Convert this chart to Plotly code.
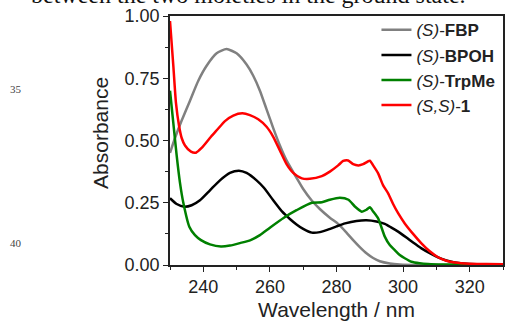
import plotly.graph_objects as go

# ---- data ----
fbp_wl = [230, 231.5, 233.5, 236, 238.5, 241, 244, 247, 250, 253, 255, 257, 259, 261, 263, 265, 268, 270, 272.5, 275, 278, 280.5, 283, 285, 287, 289, 291, 293, 296, 299, 305, 330]
fbp_abs = [0.45, 0.51, 0.58, 0.66, 0.74, 0.80, 0.85, 0.867, 0.85, 0.805, 0.76, 0.70, 0.625, 0.55, 0.48, 0.42, 0.35, 0.305, 0.26, 0.225, 0.19, 0.165, 0.13, 0.10, 0.072, 0.047, 0.028, 0.015, 0.006, 0.002, 0.0, 0.0]

bpoh_wl = [230, 232, 234.3, 236.5, 239, 242, 245, 248, 250.7, 253, 256, 258.2, 261, 263.7, 266, 268, 270, 272.6, 275, 277.6, 280, 282.6, 286, 289, 292, 294.5, 296.5, 298.5, 301, 303, 305.5, 308, 310.5, 313, 315.5, 318, 322, 330]
bpoh_abs = [0.268, 0.245, 0.234, 0.24, 0.26, 0.30, 0.34, 0.37, 0.379, 0.37, 0.34, 0.31, 0.26, 0.214, 0.185, 0.163, 0.145, 0.13, 0.132, 0.143, 0.155, 0.167, 0.177, 0.18, 0.175, 0.165, 0.15, 0.134, 0.11, 0.09, 0.067, 0.048, 0.031, 0.018, 0.01, 0.006, 0.003, 0.002]

trp_wl = [230, 231, 232, 233, 234, 235.8, 237.5, 239.3, 242, 245.3, 248, 251, 254.2, 257, 260, 264.2, 268, 272.6, 275.6, 278, 281, 283.6, 285.5, 287.6, 289, 290, 291, 292.5, 294.5, 296, 297.5, 299, 300.5, 302.5, 305, 307.5, 312, 330]
trp_abs = [0.70, 0.57, 0.44, 0.33, 0.25, 0.154, 0.12, 0.10, 0.083, 0.074, 0.078, 0.088, 0.10, 0.12, 0.15, 0.19, 0.22, 0.25, 0.252, 0.262, 0.27, 0.262, 0.235, 0.214, 0.222, 0.232, 0.215, 0.187, 0.114, 0.08, 0.06, 0.04, 0.027, 0.013, 0.007, 0.004, 0.002, 0.001]

ss1_wl = [230, 231, 231.8, 232.7, 233.5, 234.5, 236.3, 237.8, 239.5, 242.3, 244.3, 246.5, 249, 251.7, 254, 256.5, 259, 261, 263, 265, 267, 269.6, 272, 275.6, 278, 280.5, 282, 283.5, 285, 286.6, 288, 290, 291, 292.5, 294, 295.5, 297, 298.5, 300.5, 303, 305.5, 308, 310.5, 313, 315.5, 320, 325, 330]
ss1_abs = [0.98, 0.80, 0.65, 0.56, 0.51, 0.48, 0.455, 0.451, 0.47, 0.515, 0.545, 0.578, 0.60, 0.609, 0.602, 0.585, 0.555, 0.515, 0.46, 0.405, 0.37, 0.348, 0.346, 0.357, 0.375, 0.40, 0.418, 0.42, 0.405, 0.40, 0.405, 0.419, 0.40, 0.368, 0.32, 0.288, 0.245, 0.208, 0.167, 0.125, 0.087, 0.055, 0.031, 0.017, 0.01, 0.005, 0.004, 0.003]

names = ["<i>(S)</i>-<b>FBP</b>", "<i>(S)</i>-<b>BPOH</b>", "<i>(S)</i>-<b>TrpMe</b>", "<i>(S,S)</i>-<b>1</b>"]
colors = ["#808080", "#000000", "#008000", "#FF0000"]

x_ticks = [240, 260, 280, 300, 320]
y_ticks = [0.0, 0.25, 0.5, 0.75, 1.0]
y_ticklabels = ["0.00", "0.25", "0.50", "0.75", "1.00"]

fig = go.Figure()
for wl, ab, nm, c in zip([fbp_wl, bpoh_wl, trp_wl, ss1_wl], [fbp_abs, bpoh_abs, trp_abs, ss1_abs], names, colors):
    fig.add_trace(go.Scatter(x=wl, y=ab, mode="lines", name=nm,
                             line=dict(color=c, width=2.5, shape="spline", smoothing=0.6)))

axis_col = "#222222"
fig.update_layout(
    width=506, height=321,
    margin=dict(l=170, r=1, t=16, b=56),
    paper_bgcolor="white", plot_bgcolor="white",
    font=dict(family="Liberation Sans, Arial, sans-serif", color="#222222", size=18),
    showlegend=True,
    legend=dict(x=0.62, y=1.015, xanchor="left", yanchor="top",
                bgcolor="rgba(0,0,0,0)", font=dict(size=17, color="#222222"),
                tracegroupgap=0),
    xaxis=dict(range=[230, 330], tickvals=x_ticks, ticks="outside", ticklen=5,
               tickwidth=1.3, tickcolor=axis_col, showline=True, linecolor=axis_col,
               linewidth=1.5, mirror=True, showgrid=False, zeroline=False,
               minor=dict(dtick=10, tick0=230, ticks="outside", ticklen=3, tickcolor=axis_col, tickwidth=1.3),
               title=dict(text="Wavelength / nm", font=dict(size=21), standoff=6),
               tickfont=dict(size=18)),
    yaxis=dict(range=[0, 1.0], tickvals=y_ticks, ticktext=y_ticklabels, ticks="outside",
               ticklen=5, tickwidth=1.3, tickcolor=axis_col, showline=True,
               linecolor=axis_col, linewidth=1.5, mirror=True, showgrid=False,
               zeroline=False,
               minor=dict(dtick=0.125, tick0=0, ticks="outside", ticklen=3, tickcolor=axis_col, tickwidth=1.3),
               tickfont=dict(size=18)),
    xaxis2=dict(range=[230, 330], overlaying="x", side="top", anchor="y",
                dtick=10, tick0=230, ticks="inside", ticklen=3, tickcolor=axis_col,
                tickwidth=1.3, showticklabels=False, showgrid=False, zeroline=False,
                showline=False),
)

# y-axis title (placed slightly above centre, as in the reference)
fig.add_annotation(text="Absorbance", xref="paper", yref="paper",
                   x=(100 - 170) / 335, y=(265 - 132.5) / 249, xanchor="center", yanchor="middle",
                   textangle=-90, showarrow=False, font=dict(size=21, color="#222222"))

# text from the surrounding page (cropped header and line numbers)
fig.add_annotation(text="between the two moieties in the ground state.", xref="paper", yref="paper",
                   x=(28 - 170) / 335, y=1 + 21 / 249, xanchor="left", yanchor="middle",
                   showarrow=False, font=dict(family="Liberation Serif, Times New Roman, serif", size=24, color="#111111"))
fig.add_annotation(text="35", xref="paper", yref="paper", x=(15 - 170) / 335, y=(265 - 89) / 249,
                   xanchor="center", yanchor="middle", showarrow=False,
                   font=dict(family="Liberation Serif, serif", size=11, color="#444444"))
fig.add_annotation(text="40", xref="paper", yref="paper", x=(15 - 170) / 335, y=(265 - 243) / 249,
                   xanchor="center", yanchor="middle", showarrow=False,
                   font=dict(family="Liberation Serif, serif", size=11, color="#444444"))

fig.write_html("out.html", config={"displayModeBar": False},
               post_script="document.body.style.margin='0';document.body.style.overflow='hidden';")
